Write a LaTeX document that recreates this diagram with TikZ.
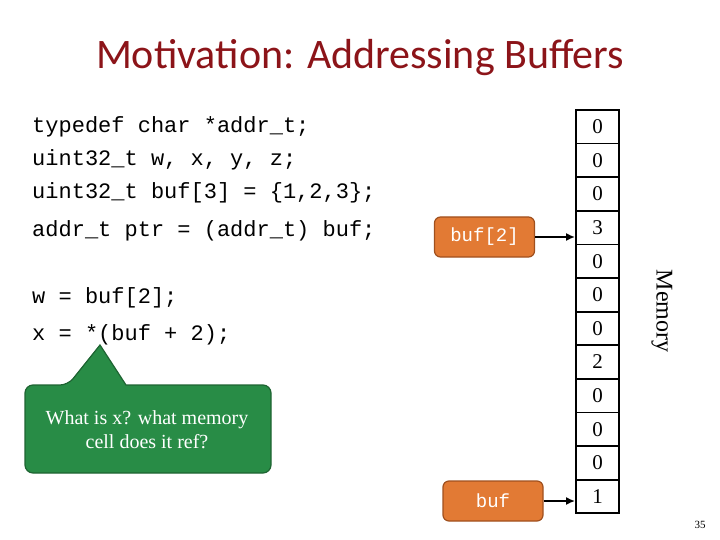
\documentclass[tikz,border=0pt]{standalone}
\usepackage{fontspec}
\setmainfont{Liberation Serif}
\newfontfamily\codefont{Liberation Mono}
\newfontfamily\titlefont{Carlito}
\usetikzlibrary{positioning,arrows.meta}
\definecolor{titlered}{RGB}{140,20,25}
\definecolor{ptrorange}{RGB}{226,122,52}
\definecolor{ptredge}{RGB}{160,80,30}
\definecolor{notegreen}{RGB}{40,140,70}
\definecolor{noteedge}{RGB}{30,100,50}
\tikzset{
  cell/.style={draw,line width=1.8pt,minimum width=43pt,minimum height=33.6pt,inner sep=0pt,font=\fontsize{21}{21}\selectfont},
  ptr/.style={draw=ptredge,fill=ptrorange,rounded corners=6pt,line width=1.2pt,minimum width=100pt,minimum height=40pt,text=white,font=\codefont\fontsize{19}{19}\selectfont},
  code/.style={anchor=west,inner sep=0pt,font=\codefont\fontsize{22}{22}\selectfont},
  link/.style={-{Latex[length=9pt,width=8pt]},line width=2pt}
}
\begin{document}
\begin{tikzpicture}[x=1pt,y=-1pt]
  \useasboundingbox (0,0) rectangle (720,540);
  \node (title) at (360,58) {\titlefont\color{titlered}\fontsize{42}{42}\selectfont Motivation: Addressing Buffers};
  % code
  \node[code] (c1) at (32,127) {typedef char *addr\_t;};
  \node[code] (c2) at (32,160) {uint32\_t w, x, y, z;};
  \node[code] (c3) at (32,193) {uint32\_t buf[3] = \{1,2,3\};};
  \node[code] (c4) at (32,231) {addr\_t ptr = (addr\_t) buf;};
  \node[code] (c5) at (32,298) {w = buf[2];};
  \node[code] (c6) at (32,335) {x = *(buf + 2);};
  % memory
  \foreach \v [count=\i from 0] in {0,0,0,3,0,0,0,2,0,0,0,1}
    \node[cell] (m\i) at (597.5,{126.8+33.6*\i}) {\v};
  \node[rotate=-90,font=\fontsize{24}{24}\selectfont] (mem) at (662,311) {Memory};
  % pointers
  \node[ptr] (p2) at (484.5,237) {buf[2]};
  \node[ptr] (p0) at (493,501) {buf};
  \draw[link] (p2.east) -- (p2.east -| m3.west);
  \draw[link] (p0.east) -- (p0.east -| m11.west);
  % note
  \draw[draw=noteedge,fill=notegreen,line width=1.2pt,rounded corners=8pt]
    (25,385) -- (68,385) [sharp corners] -- (100,345) -- (126,385) [rounded corners=8pt] -- (271,385) -- (271,473) -- (25,473) -- cycle;
  \node[text=white,align=center,font=\fontsize{20}{24}\selectfont] (note) at (147,430) {What is x? what memory\\cell does it ref?};
  \node[font=\fontsize{11}{11}\selectfont] (pg) at (700,525) {35};
\end{tikzpicture}
\end{document}
